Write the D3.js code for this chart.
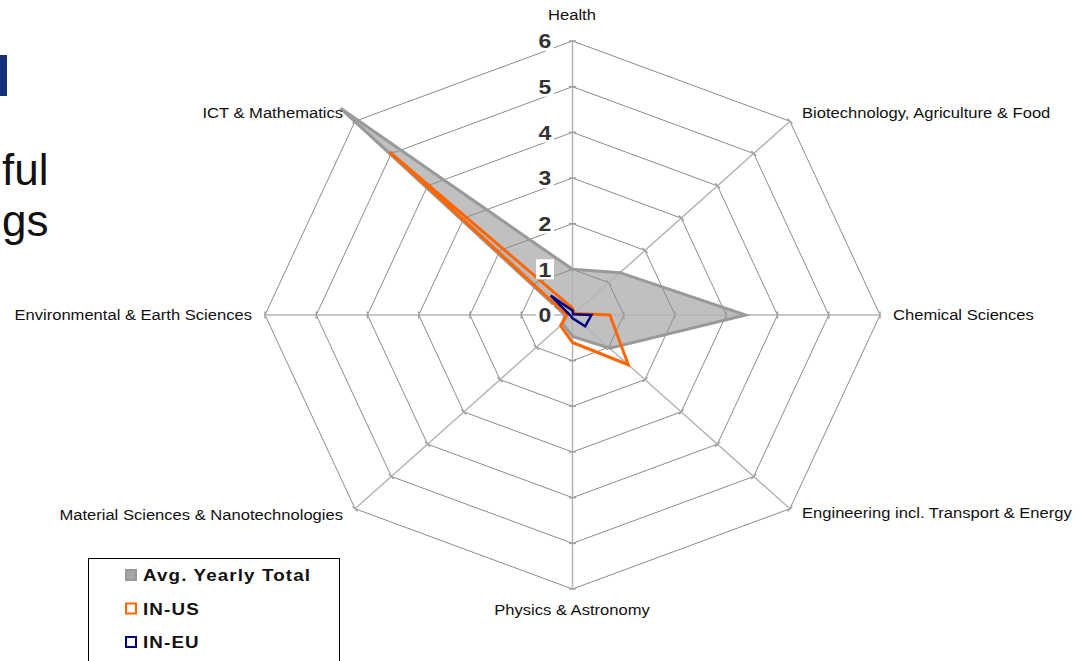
<!DOCTYPE html>
<html>
<head>
<meta charset="utf-8">
<script src="https://cdn.jsdelivr.net/npm/d3@7/dist/d3.min.js"></script>
<style>
  html, body { margin: 0; padding: 0; background: #fff; }
  svg { display: block; }
  text { font-family: "Liberation Sans", Arial, sans-serif; }
</style>
</head>
<body>
<svg id="chart" width="1086" height="661"></svg>
<script>
// ---- data ----
const categories = [
  "Health",
  "Biotechnology, Agriculture & Food",
  "Chemical Sciences",
  "Engineering incl. Transport & Energy",
  "Physics & Astronomy",
  "Material Sciences & Nanotechnologies",
  "Environmental & Earth Sciences",
  "ICT & Mathematics"
];
const avgYearlyTotal = [1.0, 1.31, 3.38, 1.03, 0.47, 0.27, 0.15, 6.4];
const inUS = [0.15, 0.05, 0.73, 1.54, 0.6, 0.33, 0.11, 5.05];
const inEU = [0.1, 0.02, 0.37, 0.35, 0.07, 0.04, 0.05, 0.6];
const tickValues = [0, 1, 2, 3, 4, 5, 6];
const seriesNames = ["Avg. Yearly Total", "IN-US", "IN-EU"];
const sideText = ["ful", "gs"];

// ---- layout ----
const svg = d3.select("#chart");
const stretch = 1.12; // picture is horizontally stretched
const cx = 572.5, cy = 315;
const sx = d3.scaleLinear().domain([0, 6]).range([0, 307.5]);
const sy = d3.scaleLinear().domain([0, 6]).range([0, 274]);
const angle = d3.scalePoint().domain(d3.range(categories.length)).range([0, 2 * Math.PI * 7 / 8]);

function pt(v, i) {
  const a = angle(i);
  return [cx + sx(v) * Math.sin(a), cy - sy(v) * Math.cos(a)];
}
const polyLine = d3.line().curve(d3.curveLinearClosed);
function poly(values) { return polyLine(values.map((v, i) => pt(v, i))); }

function stext(parent, x, y, str, opts) {
  const k = opts.k || stretch;
  const g = parent.append("g").attr("transform", `translate(${x},${y}) scale(${k},1)`);
  const t = g.append("text").attr("x", 0).attr("y", 0)
    .attr("dy", opts.dy || "0.35em")
    .attr("text-anchor", opts.anchor || "start")
    .attr("font-size", opts.size)
    .attr("font-weight", opts.weight || "normal")
    .attr("fill", opts.fill || "#111")
    .text(str);
  if (opts.ls) t.attr("letter-spacing", opts.ls);
  return t;
}

// ---- left slide fragments ----
svg.append("rect").attr("x", 0).attr("y", 55).attr("width", 7).attr("height", 41).attr("fill", "#14307a");
sideText.forEach((s, i) => {
  stext(svg, 2, 170 + i * 51, s, {anchor: "start", size: 44, dy: 0, fill: "#111", k: 1});
});

// ---- filled series (behind grid) ----
svg.append("path").attr("d", poly(avgYearlyTotal))
  .attr("fill", "#c0c0c0").attr("stroke", "none");

// ---- grid ----
const grid = svg.append("g");
tickValues.filter(v => v > 0).forEach(v => {
  grid.append("path").attr("d", poly(categories.map(() => v)))
    .attr("fill", "none").attr("stroke", "#8c8c8c").attr("stroke-width", 1);
});
categories.forEach((c, i) => {
  const [x, y] = pt(6, i);
  grid.append("line").attr("x1", cx).attr("y1", cy).attr("x2", x).attr("y2", y)
    .attr("stroke", "#b4b4b4").attr("stroke-width", 1.5);
  const a = angle(i);
  tickValues.filter(v => v > 0).forEach(v => {
    const [tx, ty] = pt(v, i);
    const px = Math.cos(a), py = Math.sin(a);
    grid.append("line")
      .attr("x1", tx - px * 3.5).attr("y1", ty - py * 3.5)
      .attr("x2", tx + px * 3.5).attr("y2", ty + py * 3.5)
      .attr("stroke", "#a0a0a0").attr("stroke-width", 1.5);
  });
});

// ---- series outlines ----
svg.append("path").attr("d", poly(avgYearlyTotal))
  .attr("fill", "none").attr("stroke", "#999999").attr("stroke-width", 3).attr("stroke-linejoin", "miter");
svg.append("path").attr("d", poly(inUS))
  .attr("fill", "none").attr("stroke", "#ff6600").attr("stroke-width", 3).attr("stroke-linejoin", "miter");
svg.append("path").attr("d", poly(inEU))
  .attr("fill", "none").attr("stroke", "#000080").attr("stroke-width", 2.5).attr("stroke-linejoin", "miter");

// ---- tick labels ----
const tl = svg.append("g");
tickValues.forEach(v => {
  const y = cy - sy(v);
  tl.append("rect").attr("x", 536).attr("y", y - 10).attr("width", 18).attr("height", 20).attr("fill", "#fff");
  stext(tl, 545, y, String(v), {anchor: "middle", size: 20.5, weight: "bold", fill: "#333", dy: "0.36em"});
});

// ---- category labels ----
const labelPos = [
  {x: 572, y: 15, anchor: "middle"},
  {x: 802, y: 113, anchor: "start"},
  {x: 893, y: 315, anchor: "start"},
  {x: 802, y: 513, anchor: "start"},
  {x: 572, y: 610, anchor: "middle"},
  {x: 343, y: 515, anchor: "end"},
  {x: 252, y: 315, anchor: "end"},
  {x: 343, y: 113, anchor: "end"}
];
categories.forEach((c, i) => {
  stext(svg, labelPos[i].x, labelPos[i].y, c, {anchor: labelPos[i].anchor, size: 14.8, fill: "#111"});
});

// ---- legend ----
const lg = svg.append("g");
lg.append("rect").attr("x", 88.5).attr("y", 558.5).attr("width", 251).attr("height", 120)
  .attr("fill", "#fff").attr("stroke", "#000").attr("stroke-width", 1);
const legendStyles = [
  {fill: "#a6a6a6", stroke: "#999999"},
  {fill: "#fff", stroke: "#ff6600"},
  {fill: "#fff", stroke: "#000080"}
];
const legendY = d3.scaleLinear().domain([0, 2]).range([575, 642]);
seriesNames.forEach((n, i) => {
  const y = legendY(i);
  lg.append("rect").attr("x", 126).attr("y", y - 5).attr("width", 10).attr("height", 10)
    .attr("fill", legendStyles[i].fill).attr("stroke", legendStyles[i].stroke).attr("stroke-width", 2);
  stext(lg, 143, y, n, {size: 16.8, weight: "bold", ls: 1.0, fill: "#111", dy: "0.36em"});
});
</script>
</body>
</html>
